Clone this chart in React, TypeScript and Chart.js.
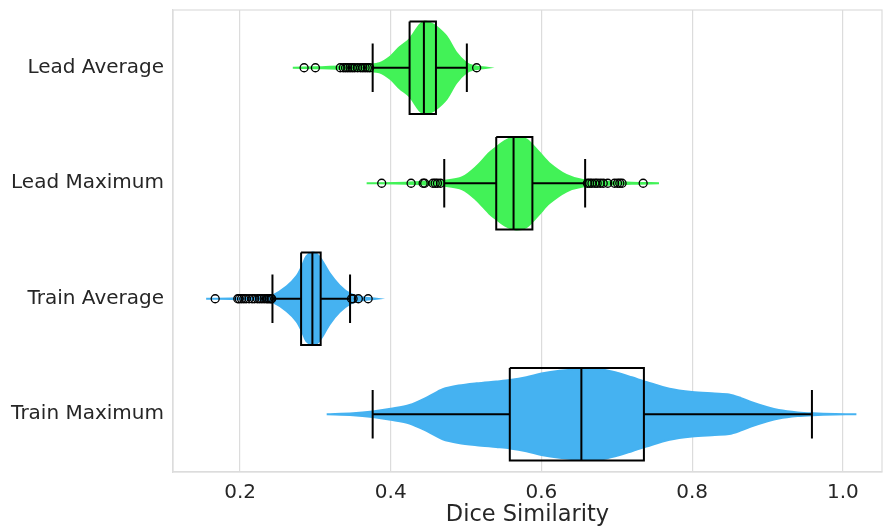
import React, { useEffect, useRef } from "react";
import { Chart, registerables } from "chart.js";

Chart.register(...registerables);

const categories = ["Lead Average", "Lead Maximum", "Train Average", "Train Maximum"];
const violinColors = ["#42f257", "#42f257", "#45b2f1", "#45b2f1"];
const xTicks = [0.2, 0.4, 0.6, 0.8, 1.0];

// violin density profiles (value, relative half-width)
const leadAvgGrid = [0.27, 0.3, 0.34, 0.37, 0.385, 0.4, 0.412, 0.425, 0.438, 0.445, 0.452, 0.46, 0.474, 0.487, 0.5, 0.51, 0.528];
const leadAvgDens = [0, 0.01, 0.03, 0.07, 0.1, 0.25, 0.45, 0.62, 0.92, 1.0, 0.97, 0.9, 0.68, 0.33, 0.11, 0.04, 0];
const leadMaxGrid = [0.368, 0.42, 0.45, 0.47, 0.495, 0.513, 0.531, 0.54, 0.553, 0.566, 0.58, 0.597, 0.61, 0.633, 0.655, 0.69, 0.72, 0.756];
const leadMaxDens = [0, 0.01, 0.03, 0.05, 0.13, 0.35, 0.66, 0.78, 0.93, 1.0, 0.95, 0.67, 0.44, 0.18, 0.07, 0.03, 0.01, 0];
const trainAvgGrid = [0.155, 0.2, 0.23, 0.244, 0.262, 0.275, 0.282, 0.288, 0.296, 0.302, 0.308, 0.319, 0.332, 0.346, 0.36, 0.381];
const trainAvgDens = [0, 0.01, 0.03, 0.08, 0.27, 0.49, 0.7, 0.92, 1.0, 0.97, 0.85, 0.55, 0.29, 0.11, 0.04, 0];
const trainMaxGrid = [0.315, 0.35, 0.376, 0.4, 0.425, 0.45, 0.469, 0.49, 0.514, 0.54, 0.558, 0.58, 0.6, 0.624, 0.654, 0.677, 0.7, 0.72, 0.739, 0.77, 0.8, 0.83, 0.849, 0.865, 0.879, 0.9, 0.915, 0.94, 0.96, 0.99, 1.018];
const trainMaxDens = [0, 0.02, 0.06, 0.12, 0.2, 0.38, 0.54, 0.62, 0.67, 0.71, 0.74, 0.8, 0.88, 0.94, 0.98, 0.98, 0.9, 0.8, 0.7, 0.55, 0.48, 0.45, 0.43, 0.35, 0.26, 0.15, 0.09, 0.04, 0.02, 0.005, 0];

// box statistics
const q1 = [0.425, 0.54, 0.281, 0.558];
const median = [0.444, 0.563, 0.296, 0.653];
const q3 = [0.46, 0.588, 0.307, 0.736];
const whiskerLow = [0.376, 0.471, 0.243, 0.376];
const whiskerHigh = [0.501, 0.658, 0.346, 0.959];

// outliers
const leadAvgOutliers = [0.285, 0.3, 0.333, 0.337, 0.34, 0.343, 0.346, 0.349, 0.352, 0.356, 0.36, 0.363, 0.366, 0.369, 0.372, 0.514];
const leadMaxOutliers = [0.388, 0.427, 0.443, 0.445, 0.456, 0.459, 0.462, 0.466, 0.661, 0.664, 0.667, 0.671, 0.674, 0.678, 0.682, 0.688, 0.697, 0.701, 0.704, 0.707, 0.735];
const trainAvgOutliers = [0.167, 0.197, 0.199, 0.202, 0.205, 0.208, 0.212, 0.216, 0.219, 0.223, 0.226, 0.229, 0.232, 0.235, 0.237, 0.239, 0.241, 0.242, 0.348, 0.35, 0.357, 0.37];
const trainMaxOutliers: number[] = [];

const grids = [leadAvgGrid, leadMaxGrid, trainAvgGrid, trainMaxGrid];
const dens = [leadAvgDens, leadMaxDens, trainAvgDens, trainMaxDens];
const outliers = [leadAvgOutliers, leadMaxOutliers, trainAvgOutliers, trainMaxOutliers];

const HALF = 0.4;
const CAP = 0.21;

function buildDatasets() {
  const ds: any[] = [];
  categories.forEach((_, i) => {
    const g = grids[i];
    const d = dens[i];
    const upper = g.map((v, k) => ({ x: v, y: i - d[k] * HALF }));
    const lower = g.map((v, k) => ({ x: v, y: i + d[k] * HALF })).reverse();
    ds.push({
      type: "line",
      data: [...upper, ...lower],
      borderColor: violinColors[i],
      backgroundColor: violinColors[i],
      borderWidth: 2,
      pointRadius: 0,
      fill: "shape",
      tension: 0.3,
      order: 5,
    });
    // box
    ds.push({
      type: "line",
      data: [
        { x: q1[i], y: i - HALF },
        { x: q3[i], y: i - HALF },
        { x: q3[i], y: i + HALF },
        { x: q1[i], y: i + HALF },
        { x: q1[i], y: i - HALF },
      ],
      borderColor: "#000",
      borderWidth: 2,
      pointRadius: 0,
      fill: false,
      order: 3,
    });
    const seg = (pts: { x: number; y: number }[]) =>
      ds.push({
        type: "line",
        data: pts,
        borderColor: "#000",
        borderWidth: 2,
        pointRadius: 0,
        fill: false,
        order: 3,
      });
    seg([{ x: median[i], y: i - HALF }, { x: median[i], y: i + HALF }]);
    seg([{ x: whiskerLow[i], y: i }, { x: q1[i], y: i }]);
    seg([{ x: q3[i], y: i }, { x: whiskerHigh[i], y: i }]);
    seg([{ x: whiskerLow[i], y: i - CAP }, { x: whiskerLow[i], y: i + CAP }]);
    seg([{ x: whiskerHigh[i], y: i - CAP }, { x: whiskerHigh[i], y: i + CAP }]);
    if (outliers[i].length) {
      ds.push({
        type: "scatter",
        data: outliers[i].map((v) => ({ x: v, y: i })),
        pointStyle: "circle",
        pointRadius: 4,
        pointBorderWidth: 1.3,
        borderColor: "#000",
        backgroundColor: "rgba(0,0,0,0)",
        showLine: false,
        order: 1,
      });
    }
  });
  return ds;
}

const frame = {
  id: "frame",
  afterDraw(chart: any) {
    const { ctx, chartArea: a } = chart;
    ctx.save();
    ctx.strokeStyle = "#dcdcdc";
    ctx.lineWidth = 1.2;
    ctx.strokeRect(a.left, a.top, a.right - a.left, a.bottom - a.top);
    ctx.restore();
  },
};

export default function App() {
  const ref = useRef<HTMLCanvasElement>(null);
  useEffect(() => {
    if (!ref.current) return;
    const font = "'DejaVu Sans', sans-serif";
    const chart = new Chart(ref.current, {
      type: "scatter",
      data: { datasets: buildDatasets() },
      options: {
        responsive: false,
        animation: false,
        layout: { autoPadding: false, padding: { top: 10, right: 1, left: 0, bottom: 0 } },
        plugins: { legend: { display: false }, tooltip: { enabled: false } },
        scales: {
          x: {
            type: "linear",
            min: 0.111,
            max: 1.052,
            afterBuildTicks: (s: any) => {
              s.ticks = xTicks.map((v) => ({ value: v }));
            },
            afterFit: (s: any) => {
              s.height = 57;
              s.paddingLeft = 0;
              s.paddingRight = 0;
            },
            grid: { color: "#dcdcdc", lineWidth: 1.2, drawTicks: false },
            border: { color: "#dcdcdc", width: 1.2 },
            ticks: {
              padding: 9,
              color: "#262626",
              font: { family: font, size: 20 },
              callback: (v: any) => Number(v).toFixed(1),
            },
            title: {
              display: true,
              text: "Dice Similarity",
              color: "#262626",
              font: { family: font, size: 22.5 },
              padding: { top: 0, bottom: 0 },
            },
          },
          y: {
            type: "linear",
            min: -0.5,
            max: 3.5,
            reverse: true,
            afterBuildTicks: (s: any) => {
              s.ticks = categories.map((_, i) => ({ value: i }));
            },
            afterFit: (s: any) => {
              s.width = 173;
              s.paddingTop = 0;
              s.paddingBottom = 0;
            },
            grid: { display: false, drawTicks: false },
            border: { color: "#dcdcdc", width: 1.2 },
            ticks: {
              padding: 9,
              color: "#262626",
              font: { family: font, size: 20 },
              callback: (v: any) => categories[Math.round(Number(v))] ?? "",
            },
          },
        },
      },
      plugins: [frame],
    });
    return () => chart.destroy();
  }, []);
  return (
    <div style={{ position: "absolute", left: 0, top: 0, width: 883, height: 529, background: "#fff" }}>
      <canvas ref={ref} width={883} height={529} />
    </div>
  );
}
